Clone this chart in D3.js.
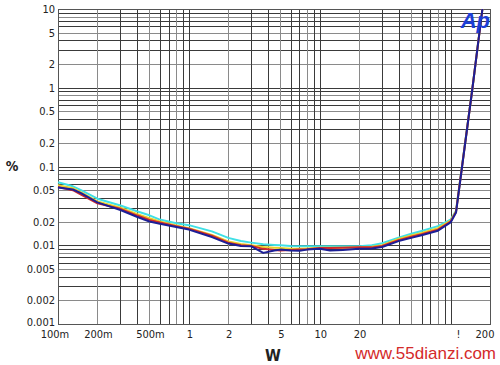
<!DOCTYPE html>
<html>
<head>
<meta charset="utf-8">
<script src="https://cdn.jsdelivr.net/npm/d3@7"></script>
<style>
  body { margin: 0; background: #fff; }
  svg { display: block; }
  text { font-family: "Liberation Sans Narrow", "DejaVu Sans Condensed", "Liberation Sans", sans-serif; }
</style>
</head>
<body>
<svg id="chart"></svg>
<script>
// power in W (x) and THD+N in % (y)
const powerW = [0.1, 0.13, 0.15, 0.2, 0.3, 0.4, 0.5, 0.6, 0.8, 1, 1.5, 2, 2.5, 3, 3.7, 4.5, 5, 6, 7, 8, 10, 12, 15, 20, 25, 30, 40, 50, 60, 80, 100, 110, 147, 175];
const navyVals = [0.054, 0.051, 0.046, 0.035, 0.028, 0.023, 0.020, 0.0188, 0.0170, 0.0158, 0.0127, 0.0105, 0.0098, 0.0097, 0.0080, 0.0086, 0.0088, 0.0086, 0.0085, 0.0088, 0.0090, 0.0086, 0.0087, 0.0090, 0.0091, 0.0095, 0.0113, 0.0124, 0.0134, 0.0153, 0.0195, 0.026, 1.0, 10];
const redVals = [0.055, 0.050, 0.044, 0.034, 0.029, 0.024, 0.021, 0.0195, 0.0175, 0.0162, 0.0132, 0.0108, 0.0100, 0.0098, 0.0090, 0.0087, 0.0086, 0.0087, 0.0088, 0.0089, 0.0092, 0.0092, 0.0093, 0.0094, 0.0094, 0.0098, 0.0116, 0.0128, 0.0138, 0.0158, 0.0200, 0.0265, 1.0, 10];
const yellowVals = [0.058, 0.053, 0.047, 0.036, 0.030, 0.025, 0.022, 0.0200, 0.0178, 0.0165, 0.0135, 0.0112, 0.0104, 0.0100, 0.0095, 0.0093, 0.0092, 0.0090, 0.0090, 0.0091, 0.0093, 0.0093, 0.0093, 0.0094, 0.0096, 0.0100, 0.0120, 0.0133, 0.0143, 0.0165, 0.0205, 0.027, 1.0, 10];
const cyanVals = [0.063, 0.056, 0.050, 0.039, 0.032, 0.027, 0.024, 0.0212, 0.0190, 0.0180, 0.0150, 0.0124, 0.0113, 0.0108, 0.0103, 0.0101, 0.0100, 0.0098, 0.0097, 0.0097, 0.0097, 0.0097, 0.0097, 0.0097, 0.0100, 0.0106, 0.0125, 0.0140, 0.0152, 0.0175, 0.0212, 0.0275, 1.0, 10];

const xTicks = [0.1, 0.2, 0.5, 1, 2, 5, 10, 20, 100, 200];
const xTickLabels = ['100m', '200m', '500m', '1', '2', '5', '10', '20', '!', '200'];
const yTicks = [10, 5, 2, 1, 0.5, 0.2, 0.1, 0.05, 0.02, 0.01, 0.005, 0.002, 0.001];
const yTickLabels = ['10', '5', '2', '1', '0.5', '0.2', '0.1', '0.05', '0.02', '0.01', '0.005', '0.002', '0.001'];

const series = [
  { name: 'cyan', values: cyanVals, color: '#3fe0e6' },
  { name: 'yellow', values: yellowVals, color: '#e9d12a' },
  { name: 'red', values: redVals, color: '#d0282c' },
  { name: 'navy', values: navyVals, color: '#1c1f96' }
];

const width = 500, height = 365;
const margin = { top: 9, right: 10, bottom: 41, left: 58 };
const innerW = width - margin.left - margin.right;
const innerH = height - margin.top - margin.bottom;

const svg = d3.select('#chart').attr('width', width).attr('height', height);
const g = svg.append('g').attr('transform', `translate(${margin.left},${margin.top})`);

const x = d3.scaleLog().domain([0.1, 200]).range([0, innerW]);
const y = d3.scaleLog().domain([0.001, 10]).range([innerH, 0]);

// grid lines at 1..9 of each decade
const xGrid = [];
[0.1, 1, 10, 100].forEach(d => { for (let k = 1; k <= 9; k++) { const v = d * k; if (v <= 200.001) xGrid.push(v); } });
const yGrid = [];
[0.001, 0.01, 0.1, 1].forEach(d => { for (let k = 1; k <= 9; k++) yGrid.push(d * k); });
yGrid.push(10);

g.append('g').selectAll('line')
  .data(yGrid)
  .enter()
  .append('line')
  .attr('x1', 0).attr('x2', innerW)
  .attr('y1', d => Math.round(y(d)) + 0.5).attr('y2', d => Math.round(y(d)) + 0.5)
  .attr('stroke', (d, i) => i % 3 === 1 ? '#8a8a8a' : '#3a3a3a')
  .attr('stroke-width', 1);

g.append('g').selectAll('line')
  .data(xGrid)
  .enter()
  .append('line')
  .attr('y1', 0).attr('y2', innerH)
  .attr('x1', d => Math.round(x(d)) + 0.5).attr('x2', d => Math.round(x(d)) + 0.5)
  .attr('stroke', (d, i) => i % 3 === 1 ? '#8a8a8a' : '#3a3a3a')
  .attr('stroke-width', 1);

// frame
g.append('rect')
  .attr('x', 0.5).attr('y', 0.5)
  .attr('width', innerW).attr('height', innerH)
  .attr('fill', 'none')
  .attr('stroke', '#555');

// curves
const line = d3.line()
  .x((d, i) => x(powerW[i]))
  .y(d => y(d));

g.selectAll('.curve')
  .data(series)
  .enter()
  .append('path')
  .attr('class', 'curve')
  .attr('fill', 'none')
  .attr('stroke', d => d.color)
  .attr('stroke-width', 2)
  .attr('stroke-linejoin', 'round')
  .attr('d', d => line(d.values));

// y tick labels
g.selectAll('.ylab')
  .data(yTicks)
  .enter()
  .append('text')
  .attr('class', 'ylab')
  .attr('x', -3)
  .attr('y', d => y(d) + (d === 0.001 ? 2 : 4))
  .attr('text-anchor', 'end')
  .style('font-size', '11px')
  .attr('fill', '#222')
  .text((d, i) => yTickLabels[i]);

// x tick labels
g.selectAll('.xlab')
  .data(xTicks)
  .enter()
  .append('text')
  .attr('class', 'xlab')
  .attr('x', (d, i) => {
    if (i === 0) return x(d) - 3;
    if (i === xTicks.length - 1) return x(d) - 5;
    if (xTickLabels[i] === '!') return x(d) + 8;
    return x(d) + 1;
  })
  .attr('y', innerH + 14)
  .attr('text-anchor', 'middle')
  .style('font-size', '11px')
  .attr('fill', '#222')
  .text((d, i) => xTickLabels[i]);

// axis titles
svg.append('text')
  .attr('x', 12).attr('y', 171)
  .attr('text-anchor', 'middle')
  .style('font-size', '14px')
  .style('font-weight', 'bold')
  .attr('fill', '#222')
  .text('%');

svg.append('text')
  .attr('x', 273).attr('y', 361)
  .attr('text-anchor', 'middle')
  .style('font-size', '16px')
  .style('font-weight', 'bold')
  .attr('fill', '#222')
  .text('W');

// Ap logo
svg.append('text')
  .attr('x', 490).attr('y', 28)
  .attr('text-anchor', 'end')
  .style('font-family', '"Liberation Sans", Arial, sans-serif')
  .style('font-size', '22px')
  .style('font-weight', 'bold')
  .style('font-style', 'italic')
  .attr('fill', '#1d3fd6')
  .text('Ap');

// watermark
svg.append('text')
  .attr('x', 496).attr('y', 359)
  .attr('text-anchor', 'end')
  .style('font-family', '"Liberation Sans", Arial, sans-serif')
  .style('font-size', '17px')
  .attr('fill', '#d42a2a')
  .text('www.55dianzi.com');
</script>
</body>
</html>
